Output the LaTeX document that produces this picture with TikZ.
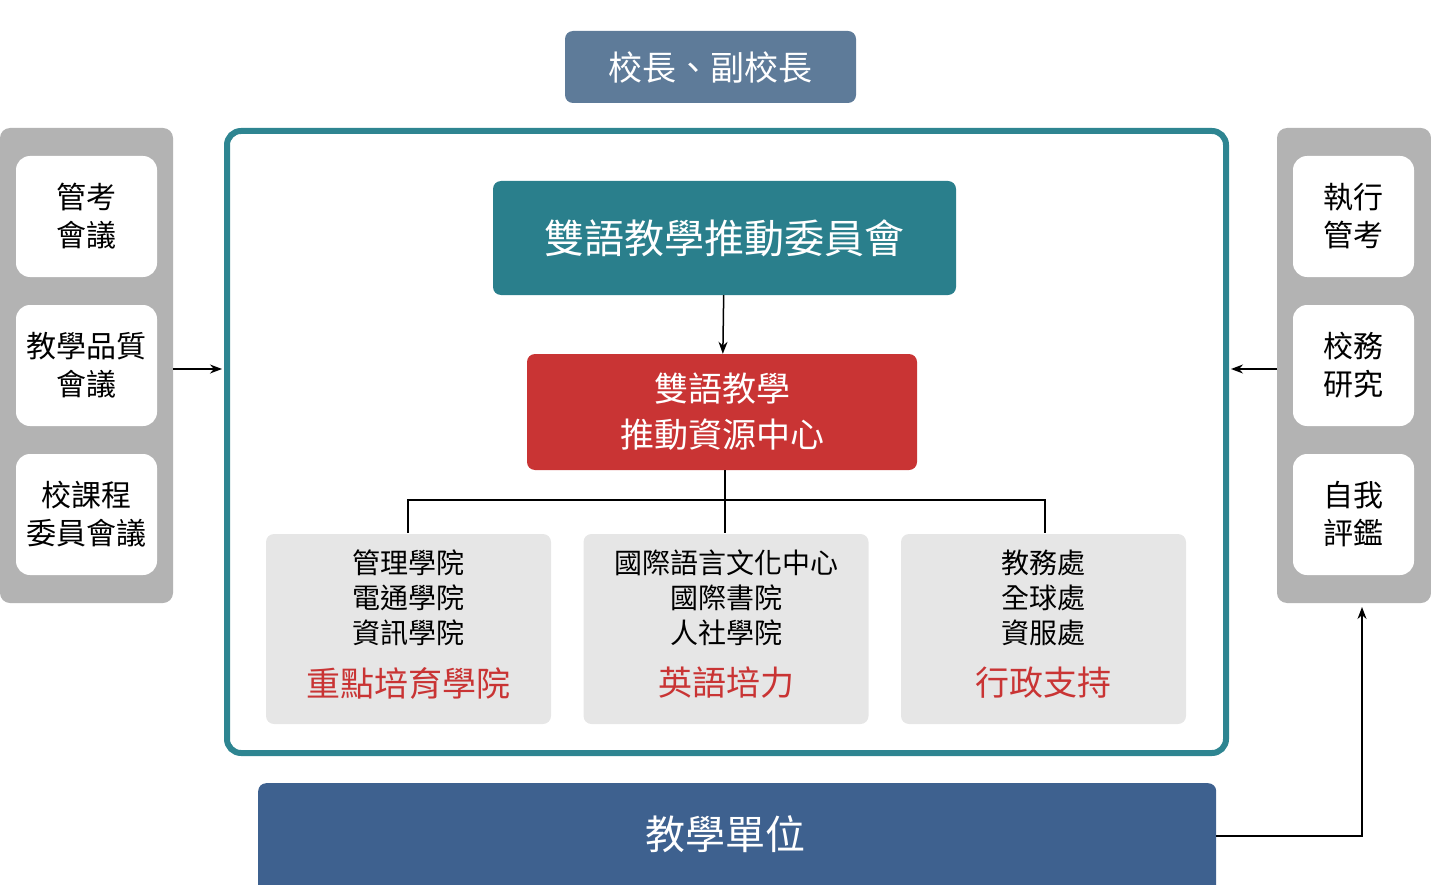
\documentclass[tikz,border=0pt]{standalone}
\usepackage{fontspec}
\setmainfont{Noto Sans CJK TC}
\usetikzlibrary{arrows.meta}
\definecolor{slate}{HTML}{5E7B99}
\definecolor{teal}{HTML}{2A7F8C}
\definecolor{frame}{HTML}{2E8591}
\definecolor{red}{HTML}{C93434}
\definecolor{navy}{HTML}{3E618F}
\definecolor{lg}{HTML}{E6E6E6}
\definecolor{pg}{HTML}{B3B3B3}
\tikzset{
 box/.style={rounded corners=8pt,inner sep=0pt,align=center},
 side/.style={box,fill=white,minimum width=141pt,minimum height=121pt,font=\fontsize{30}{38}\selectfont,rounded corners=14pt},
 unit/.style={box,fill=lg,minimum width=285pt,minimum height=190pt},
 arr/.style={-{Stealth[length=12pt,width=9pt]},line width=1.5pt},
 ln/.style={line width=1.5pt}
}
\begin{document}
\begin{tikzpicture}[x=1pt,y=-1pt]
\useasboundingbox (0,0) rectangle (1431,885);
\node[box,fill=slate,minimum width=291pt,minimum height=72pt,text=white,font=\fontsize{34}{40}\selectfont] (top) at (710.5,67) {校長、副校長};
\draw[frame,line width=6pt,rounded corners=14pt] (227,131) rectangle (1226,753);
\node[box,fill=teal,minimum width=463pt,minimum height=114pt,text=white,font=\fontsize{40}{48}\selectfont] (com) at (724.5,238) {雙語教學推動委員會};
\node[box,fill=red,minimum width=390pt,minimum height=116pt,text=white,font=\fontsize{34}{46}\selectfont] (ctr) at (722,412) {雙語教學\\推動資源中心};
\draw[arr] (com) -- (ctr);
\node[unit] (u1) at (408.5,629) {};
\node[unit] (u2) at (726,629) {};
\node[unit] (u3) at (1043.5,629) {};
\foreach \u/\t/\a/\b/\c in {u1/重點培育學院/管理學院/電通學院/資訊學院, u2/英語培力/國際語言文化中心/國際書院/人社學院, u3/行政支持/教務處/全球處/資服處}{
 \node[font=\fontsize{34}{40}\selectfont,text=red] (\u t) at ([yshift=-54pt]\u.center) {\t};
 \node[font=\fontsize{28}{35}\selectfont,align=center] (\u i) at ([yshift=31pt]\u.center) {\a\\\b\\\c};
}
\coordinate (j) at (725,500);
\draw[ln] (725,470) -- (j);
\draw[ln] (408,533) -- (408,500) -- (1045,500) -- (1045,533);
\draw[ln] (j) -- (725,533);
\node[box,fill=pg,minimum width=173pt,minimum height=475pt,rounded corners=10pt] (lp) at (86.5,365.5) {};
\node[box,fill=pg,minimum width=154pt,minimum height=475pt,rounded corners=10pt] (rp) at (1354,365.5) {};
\node[side] (l1) at (86.5,216.5) {管考\\會議};
\node[side] (l2) at (86.5,365.5) {教學品質\\會議};
\node[side] (l3) at (86.5,514.5) {校課程\\委員會議};
\node[side,minimum width=121pt] (r1) at (1353.5,216.5) {執行\\管考};
\node[side,minimum width=121pt] (r2) at (1353.5,365.5) {校務\\研究};
\node[side,minimum width=121pt] (r3) at (1353.5,514.5) {自我\\評鑑};
\draw[arr] (173,369) -- (222,369);
\draw[arr] (1277,369) -- (1231,369);
\node[box,fill=navy,minimum width=958pt,minimum height=110pt,text=white,font=\fontsize{40}{48}\selectfont,anchor=north west] (bot) at (258,783) {};
\node[text=white,font=\fontsize{40}{48}\selectfont] (bt) at (725,834) {教學單位};
\draw[arr] (1216,836) -- (1362,836) -- (1362,607);
\end{tikzpicture}
\end{document}
